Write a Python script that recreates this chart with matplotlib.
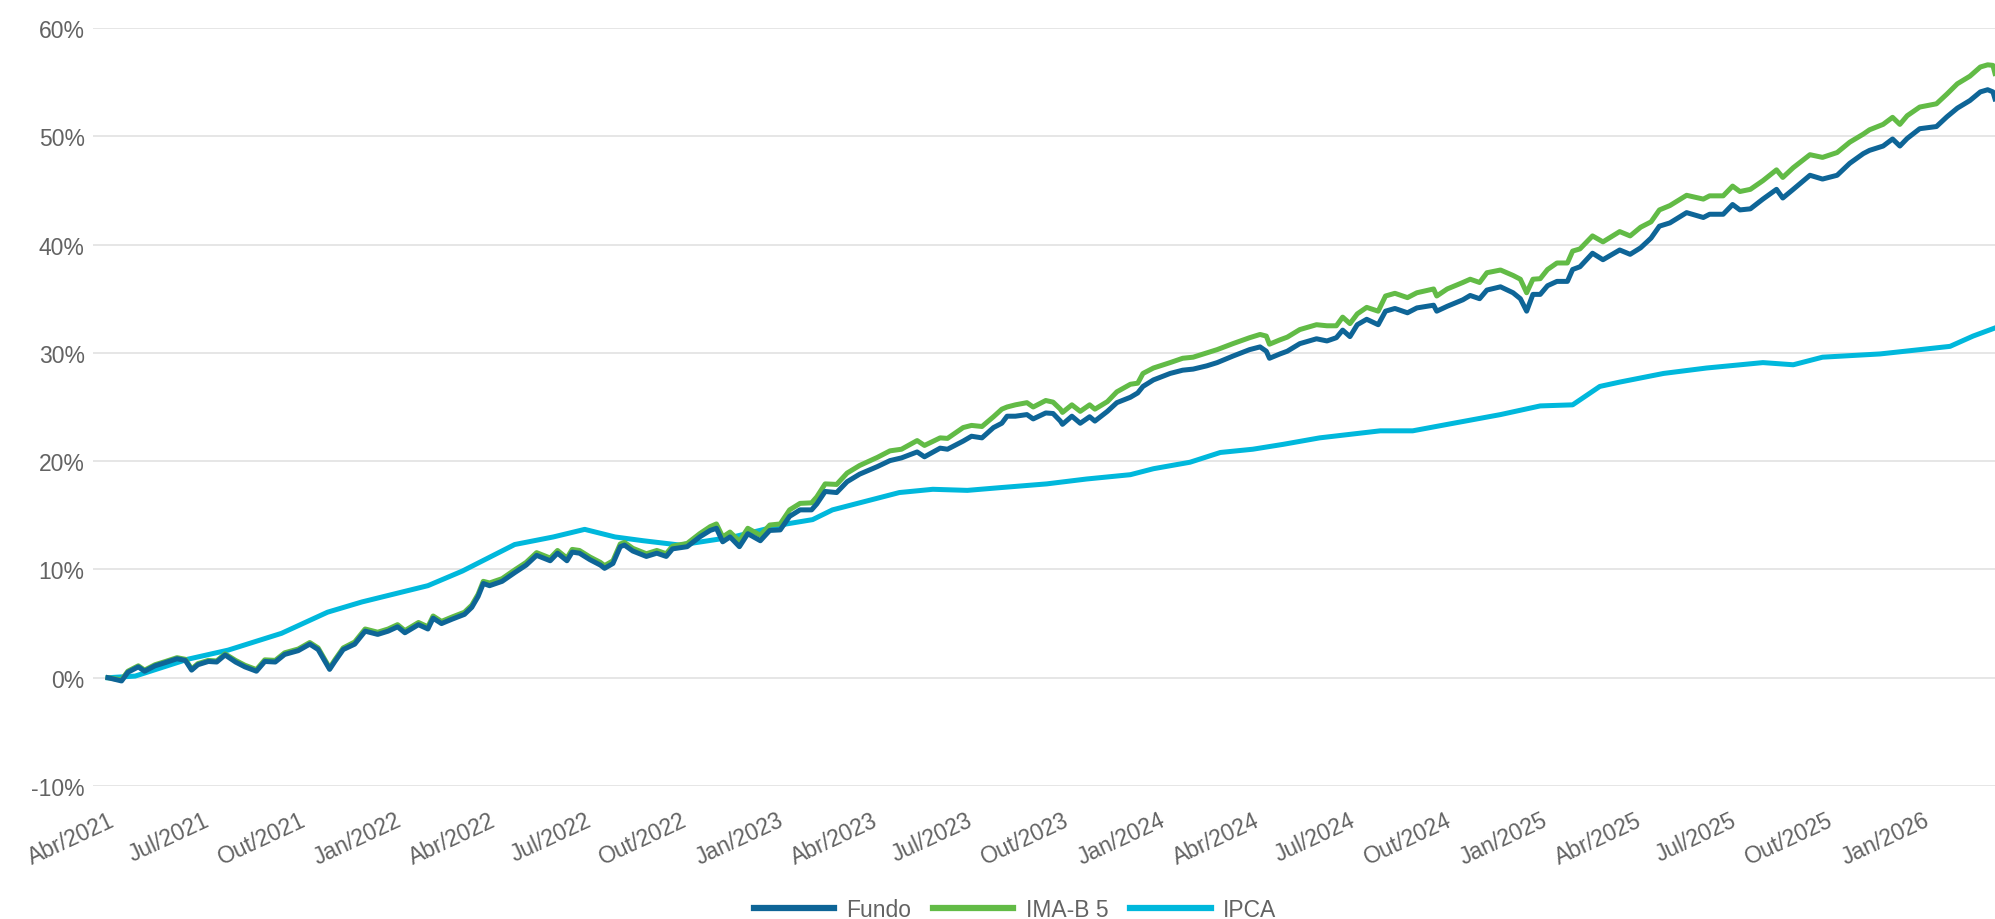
import pandas as pd
import matplotlib
matplotlib.use('Agg')
import matplotlib.pyplot as plt
from matplotlib.ticker import FuncFormatter

plt.rcParams['font.family'] = ['Liberation Sans', 'DejaVu Sans']

# Fundo / IMA-B 5 (retorno acumulado, %)
datas = [
    '2021-04-01', '2021-04-14', '2021-04-20', '2021-04-30', '2021-05-06', '2021-05-16', '2021-05-26',
    '2021-06-06', '2021-06-14', '2021-06-20', '2021-06-26', '2021-07-06', '2021-07-14', '2021-07-22',
    '2021-08-01', '2021-08-10', '2021-08-21', '2021-08-29', '2021-09-08', '2021-09-17', '2021-09-30',
    '2021-10-11', '2021-10-19', '2021-10-30', '2021-11-04', '2021-11-12', '2021-11-23', '2021-12-03',
    '2021-12-15', '2021-12-25', '2022-01-03', '2022-01-10', '2022-01-23', '2022-02-01', '2022-02-06',
    '2022-02-14', '2022-02-24', '2022-03-08', '2022-03-15', '2022-03-21', '2022-03-26', '2022-04-01',
    '2022-04-13', '2022-04-25', '2022-05-06', '2022-05-16', '2022-05-29', '2022-06-05', '2022-06-14',
    '2022-06-19', '2022-06-26', '2022-07-06', '2022-07-16', '2022-07-20', '2022-07-28', '2022-08-04',
    '2022-08-08', '2022-08-16', '2022-08-29', '2022-09-08', '2022-09-17', '2022-09-23', '2022-10-07',
    '2022-10-19', '2022-10-29', '2022-11-04', '2022-11-10', '2022-11-17', '2022-11-26', '2022-12-04',
    '2022-12-16', '2022-12-25', '2023-01-04', '2023-01-13', '2023-01-23', '2023-02-03', '2023-02-08',
    '2023-02-16', '2023-02-27', '2023-03-09', '2023-03-21', '2023-04-07', '2023-04-19', '2023-04-30',
    '2023-05-15', '2023-05-22', '2023-06-06', '2023-06-13', '2023-06-28', '2023-07-06', '2023-07-16',
    '2023-07-27', '2023-08-04', '2023-08-09', '2023-08-17', '2023-08-28', '2023-09-03', '2023-09-15',
    '2023-09-22', '2023-09-29', '2023-10-01', '2023-10-10', '2023-10-18', '2023-10-27', '2023-11-01',
    '2023-11-13', '2023-11-22', '2023-12-05', '2023-12-12', '2023-12-17', '2023-12-27', '2024-01-12',
    '2024-01-24', '2024-02-03', '2024-02-16', '2024-02-26', '2024-03-12', '2024-03-28', '2024-04-07',
    '2024-04-13', '2024-04-16', '2024-04-26', '2024-05-03', '2024-05-15', '2024-05-31', '2024-06-10',
    '2024-06-19', '2024-06-25', '2024-07-02', '2024-07-09', '2024-07-18', '2024-07-29', '2024-08-05',
    '2024-08-14', '2024-08-26', '2024-09-04', '2024-09-20', '2024-09-23', '2024-10-03', '2024-10-18',
    '2024-10-25', '2024-11-03', '2024-11-10', '2024-11-23', '2024-12-05', '2024-12-12', '2024-12-18',
    '2024-12-24', '2024-12-31', '2025-01-07', '2025-01-16', '2025-01-26', '2025-01-31', '2025-02-07',
    '2025-02-19', '2025-03-01', '2025-03-17', '2025-03-27', '2025-04-06', '2025-04-16', '2025-04-24',
    '2025-05-04', '2025-05-20', '2025-06-05', '2025-06-11', '2025-06-24', '2025-07-03', '2025-07-10',
    '2025-07-20', '2025-08-01', '2025-08-14', '2025-08-20', '2025-08-30', '2025-09-15', '2025-09-27',
    '2025-10-11', '2025-10-23', '2025-11-05', '2025-11-11', '2025-11-24', '2025-12-03', '2025-12-10',
    '2025-12-17', '2025-12-29', '2026-01-14', '2026-01-24', '2026-02-03', '2026-02-15', '2026-02-25',
    '2026-03-04', '2026-03-09', '2026-03-11',
]
fundo = [
    0.0, -0.3, 0.5, 1.0, 0.6, 1.1, 1.4,
    1.75, 1.6, 0.7, 1.2, 1.5, 1.45, 2.1,
    1.45, 1.0, 0.6, 1.5, 1.45, 2.15, 2.5,
    3.1, 2.6, 0.77, 1.5, 2.6, 3.1, 4.3,
    4.0, 4.3, 4.7, 4.15, 4.9, 4.5, 5.5,
    5.0, 5.4, 5.85, 6.5, 7.5, 8.7, 8.5,
    8.9, 9.7, 10.4, 11.3, 10.8, 11.5, 10.8,
    11.6, 11.5, 10.9, 10.4, 10.1, 10.55, 12.1,
    12.25, 11.7, 11.2, 11.5, 11.2, 11.9, 12.1,
    13.0, 13.6, 13.8, 12.55, 13.0, 12.1, 13.3,
    12.65, 13.6, 13.65, 14.9, 15.5, 15.5, 16.05,
    17.2, 17.1, 18.1, 18.8, 19.5, 20.05, 20.3,
    20.85, 20.4, 21.2, 21.1, 21.85, 22.3, 22.15,
    23.1, 23.5, 24.15, 24.15, 24.3, 23.9, 24.45,
    24.4, 23.7, 23.4, 24.15, 23.5, 24.1, 23.7,
    24.6, 25.4, 25.9, 26.3, 26.9, 27.5, 28.1,
    28.4, 28.5, 28.8, 29.1, 29.7, 30.3, 30.55,
    30.15, 29.5, 29.9, 30.15, 30.85, 31.3, 31.1,
    31.4, 32.1, 31.5, 32.6, 33.1, 32.6, 33.85,
    34.1, 33.7, 34.15, 34.4, 33.85, 34.3, 34.9,
    35.3, 35.0, 35.8, 36.1, 35.55, 35.0, 33.85,
    35.4, 35.4, 36.2, 36.6, 36.6, 37.7, 37.95,
    39.2, 38.6, 39.5, 39.1, 39.7, 40.6, 41.7,
    42.0, 42.95, 42.5, 42.8, 42.8, 43.7, 43.2,
    43.3, 44.2, 45.1, 44.3, 45.1, 46.4, 46.05,
    46.4, 47.5, 48.4, 48.7, 49.1, 49.75, 49.1,
    49.8, 50.7, 50.9, 51.8, 52.6, 53.3, 54.1,
    54.3, 54.1, 53.45,
]
ima_b5 = [
    0.0, -0.2, 0.6, 1.1, 0.7, 1.2, 1.5,
    1.85, 1.7, 0.8, 1.3, 1.6, 1.55, 2.2,
    1.6, 1.15, 0.75, 1.65, 1.6, 2.3, 2.65,
    3.25, 2.75, 0.9, 1.65, 2.75, 3.3, 4.5,
    4.2, 4.5, 4.9, 4.35, 5.1, 4.7, 5.7,
    5.2, 5.6, 6.05, 6.7, 7.7, 8.9, 8.75,
    9.15, 9.95, 10.65, 11.55, 11.05, 11.75, 11.05,
    11.85, 11.75, 11.15, 10.65, 10.35, 10.8, 12.35,
    12.5, 11.95, 11.45, 11.75, 11.45, 12.15, 12.4,
    13.3, 13.95, 14.2, 13.0, 13.45, 12.6, 13.8,
    13.15, 14.1, 14.2, 15.5, 16.1, 16.15, 16.7,
    17.9, 17.85, 18.9, 19.6, 20.35, 20.95, 21.1,
    21.9, 21.45, 22.15, 22.1, 23.1, 23.3, 23.2,
    24.1, 24.8, 25.0, 25.2, 25.4, 25.0, 25.6,
    25.45, 24.8, 24.5, 25.2, 24.6, 25.2, 24.8,
    25.5, 26.4, 27.1, 27.2, 28.1, 28.6, 29.1,
    29.5, 29.6, 30.0, 30.3, 30.85, 31.4, 31.7,
    31.55, 30.8, 31.2, 31.45, 32.15, 32.6, 32.5,
    32.5, 33.3, 32.7, 33.6, 34.2, 33.85, 35.25,
    35.5, 35.1, 35.55, 35.9, 35.25, 35.9, 36.5,
    36.8, 36.5, 37.4, 37.65, 37.15, 36.8, 35.55,
    36.8, 36.85, 37.7, 38.3, 38.3, 39.4, 39.6,
    40.8, 40.25, 41.2, 40.8, 41.6, 42.1, 43.2,
    43.6, 44.55, 44.2, 44.5, 44.5, 45.4, 44.9,
    45.1, 45.9, 46.9, 46.2, 47.1, 48.3, 48.05,
    48.5, 49.45, 50.2, 50.6, 51.1, 51.75, 51.1,
    51.9, 52.7, 53.0, 53.9, 54.85, 55.55, 56.4,
    56.6, 56.55, 55.8,
]

# IPCA (acumulado, %)
datas_ipca = [
    '2021-04-01', '2021-04-27', '2021-06-16', '2021-07-25', '2021-09-14', '2021-10-28', '2021-11-30',
    '2022-02-01', '2022-03-06', '2022-04-25', '2022-06-01', '2022-07-01', '2022-07-30', '2022-08-26',
    '2022-09-30', '2022-11-20', '2023-01-10', '2023-02-04', '2023-02-23', '2023-04-28', '2023-05-30',
    '2023-07-02', '2023-08-02', '2023-09-16', '2023-10-24', '2023-12-05', '2023-12-27', '2024-01-31',
    '2024-02-29', '2024-03-31', '2024-04-29', '2024-06-03', '2024-07-31', '2024-08-31', '2024-10-09',
    '2024-11-23', '2024-12-31', '2025-01-31', '2025-02-26', '2025-03-17', '2025-04-28', '2025-06-08',
    '2025-08-01', '2025-08-30', '2025-09-27', '2025-11-21', '2026-01-27', '2026-02-18', '2026-03-11',
]
ipca = [
    0.0, 0.15, 1.7, 2.55, 4.1, 6.05, 7.0,
    8.5, 9.85, 12.3, 13.0, 13.7, 13.0, 12.65,
    12.25, 13.0, 14.2, 14.6, 15.5, 17.1, 17.4,
    17.3, 17.55, 17.9, 18.35, 18.75, 19.3, 19.9,
    20.8, 21.1, 21.55, 22.15, 22.8, 22.8, 23.5,
    24.3, 25.1, 25.2, 26.9, 27.3, 28.1, 28.6,
    29.1, 28.9, 29.6, 29.9, 30.6, 31.55, 32.3,
]

meses = ['Jan', 'Fev', 'Mar', 'Abr', 'Mai', 'Jun', 'Jul', 'Ago', 'Set', 'Out', 'Nov', 'Dez']

cor_texto = '#636363'
x = pd.to_datetime(datas)
x_ipca = pd.to_datetime(datas_ipca)

fig = plt.figure(figsize=(19.95, 9.2), dpi=100)
ax = fig.add_axes([93 / 1995, 133 / 920, 1902 / 1995, 758 / 920])

ax.plot(x_ipca, ipca, color='#00b8dc', lw=3.6, label='IPCA', zorder=2)
ax.plot(x, ima_b5, color='#62bb46', lw=3.6, label='IMA-B 5', zorder=3)
ax.plot(x, fundo, color='#0e6597', lw=3.6, label='Fundo', zorder=4)

ax.set_ylim(-10, 60)
ax.set_yticks(range(-10, 61, 10))
ax.yaxis.set_major_formatter(FuncFormatter(lambda v, p: f'{v:.0f}%'))
ax.set_xlim(pd.Timestamp('2021-03-17 16:00'), pd.Timestamp('2026-03-11'))

ticks = pd.date_range('2021-04-01', '2026-01-01', freq='QS-JAN')
ax.set_xticks(ticks)
ax.set_xticklabels([f'{meses[t.month - 1]}/{t.year}' for t in ticks],
                   rotation=25, ha='right', rotation_mode='anchor')

ax.grid(axis='y', color='#e2e2e2', lw=1.2)
ax.set_axisbelow(True)
for s in ax.spines.values():
    s.set_visible(False)
ax.tick_params(axis='y', length=0, pad=6, labelsize=16.5, labelcolor=cor_texto)
ax.tick_params(axis='x', length=0, pad=16, labelsize=16.5, labelcolor=cor_texto)

h, l = ax.get_legend_handles_labels()
order = [2, 1, 0]
leg = fig.legend([h[i] for i in order], [l[i] for i in order], loc='center',
                 bbox_to_anchor=(1015 / 1995, 1 - 911 / 920), ncol=3, frameon=False,
                 fontsize=16.5, handlelength=3.5, handletextpad=0.55, columnspacing=0.95,
                 labelcolor=cor_texto)
for ln in leg.get_lines():
    ln.set_linewidth(4.5)

fig.savefig('out.png', dpi=100)
